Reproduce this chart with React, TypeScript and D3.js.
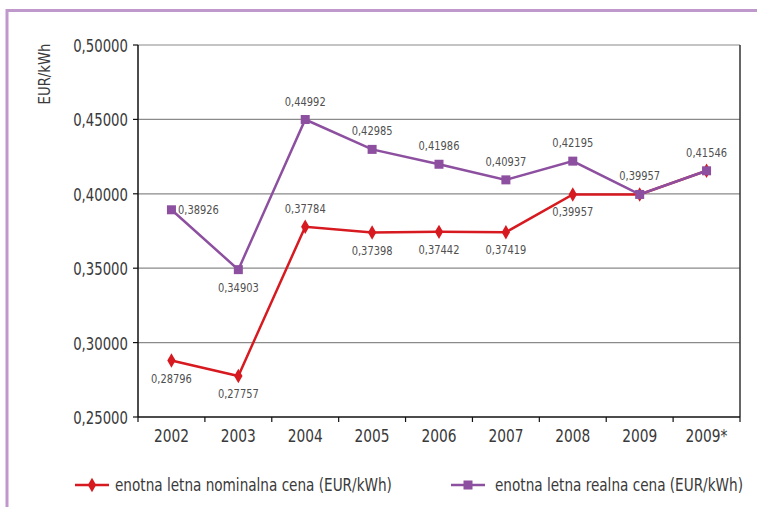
import React from 'react';
import * as d3 from 'd3';

const years = ['2002', '2003', '2004', '2005', '2006', '2007', '2008', '2009', '2009*'];
const nominalValues = [0.28796, 0.27757, 0.37784, 0.37398, 0.37442, 0.37419, 0.39957, 0.39957, 0.41546];
const realValues = [0.38926, 0.34903, 0.44992, 0.42985, 0.41986, 0.40937, 0.42195, 0.39957, 0.41546];
// where the value label sits next to each point
const nominalLabelPos = ['below', 'below', 'above', 'below', 'below', 'below', 'below', 'none', 'none'];
const realLabelPos = ['right', 'below', 'above', 'above', 'above', 'above', 'above', 'above', 'above'];
const yTicks = [0.25, 0.3, 0.35, 0.4, 0.45, 0.5];
const nominalName = 'enotna letna nominalna cena (EUR/kWh)';
const realName = 'enotna letna realna cena (EUR/kWh)';

const RED = '#d71920';
const PURPLE = '#8d4f9f';
const FONT = '"DejaVu Sans Condensed", "DejaVu Sans", sans-serif';
const TEXT = '#3a3a3a';

const fmt = (v: number) => v.toFixed(5).replace('.', ',');

// squeezed text, the original uses a condensed face
const Txt = ({ x, y, sx, size, anchor = 'start', fill = TEXT, children }: any) => (
  <text transform={`translate(${x},${y}) scale(${sx},1)`} textAnchor={anchor} fontSize={size} fill={fill}>
    {children}
  </text>
);

const App = () => {
  const width = 757, height = 507;
  const margin = { top: 45, right: 17, bottom: 90, left: 138 };

  const x = d3.scaleBand().domain(years).range([margin.left, width - margin.right]);
  const y = d3.scaleLinear().domain([0.25, 0.5]).range([height - margin.bottom, margin.top]);
  const cx = (d: string) => (x(d) as number) + x.bandwidth() / 2;

  const line = d3.line<number>()
    .x((_, i) => cx(years[i]))
    .y((d) => y(d));

  const labelXY = (pos: string, i: number, v: number) => {
    const px = cx(years[i]), py = y(v);
    if (pos === 'above') return [px, py - 14];
    if (pos === 'below') return [px, py + 22];
    if (pos === 'right') return [px + 27, py + 4];
    return null;
  };

  const diamond = d3.symbol().type(d3.symbolDiamond).size(60)();

  const x0 = margin.left, x1 = width - margin.right;
  const yBottom = y(0.25), yTop = y(0.5);

  return (
    <svg width={width} height={height} style={{ position: 'absolute', left: 0, top: 0, background: '#fff' }}
      fontFamily={FONT}>
      {/* outer frame */}
      <rect x={7} y={10.5} width={800} height={600} fill="none" stroke="#bf98cc" strokeWidth={3} />

      {/* grid */}
      {yTicks.filter((t) => t > 0.25).map((t) => (
        <line key={t} x1={x0} x2={x1} y1={y(t)} y2={y(t)} stroke="#8a8a8a" strokeWidth={1.2} />
      ))}
      <line x1={x1} x2={x1} y1={yTop} y2={yBottom} stroke="#333" strokeWidth={1.5} />

      {/* y axis */}
      <line x1={x0} x2={x0} y1={yTop} y2={yBottom} stroke="#111" strokeWidth={1.5} />
      {yTicks.map((t) => (
        <g key={t}>
          <line x1={x0 - 5} x2={x0} y1={y(t)} y2={y(t)} stroke="#111" strokeWidth={1.2} />
          <Txt x={x0 - 10} y={y(t) + 7} sx={0.82} size={18} anchor="end">{fmt(t)}</Txt>
        </g>
      ))}
      <text transform={`translate(50,${74}) rotate(-90) scale(0.92,1)`} textAnchor="middle" fontSize={16} fill={TEXT}>EUR/kWh</text>

      {/* x axis */}
      <line x1={x0} x2={x1} y1={yBottom} y2={yBottom} stroke="#111" strokeWidth={1.5} />
      {years.map((d, i) => (
        <g key={d}>
          <line x1={x(d) as number} x2={x(d) as number} y1={yBottom} y2={yBottom + 5} stroke="#111" strokeWidth={1.2} />
          {i === years.length - 1 && (
            <line x1={x1} x2={x1} y1={yBottom} y2={yBottom + 5} stroke="#111" strokeWidth={1.2} />
          )}
          <Txt x={cx(d)} y={yBottom + 25} sx={0.85} size={18} anchor="middle">{d}</Txt>
        </g>
      ))}

      {/* nominal series */}
      <path d={line(nominalValues) as string} fill="none" stroke={RED} strokeWidth={2.5} />
      {nominalValues.map((v, i) => (
        <path key={i} d={diamond as string} transform={`translate(${cx(years[i])},${y(v)})`} fill={RED} />
      ))}

      {/* real series */}
      <path d={line(realValues) as string} fill="none" stroke={PURPLE} strokeWidth={2.5} />
      {realValues.map((v, i) => (
        <rect key={i} x={cx(years[i]) - 4.5} y={y(v) - 4.5} width={9} height={9} fill={PURPLE} />
      ))}

      {/* value labels */}
      {realValues.map((v, i) => {
        const p = labelXY(realLabelPos[i], i, v);
        return p && (
          <Txt key={'r' + i} x={p[0]} y={p[1]} sx={0.88} size={12.5} anchor="middle" fill="#505050">{fmt(v)}</Txt>
        );
      })}
      {nominalValues.map((v, i) => {
        const p = labelXY(nominalLabelPos[i], i, v);
        return p && (
          <Txt key={'n' + i} x={p[0]} y={p[1]} sx={0.88} size={12.5} anchor="middle" fill="#505050">{fmt(v)}</Txt>
        );
      })}

      {/* legend */}
      <g transform="translate(75,485)">
        <line x1={0} x2={34} y1={0} y2={0} stroke={RED} strokeWidth={2.5} />
        <path d={diamond as string} transform="translate(17,0)" fill={RED} />
        <Txt x={40} y={6} sx={0.89} size={17}>{nominalName}</Txt>
      </g>
      <g transform="translate(451,485)">
        <line x1={0} x2={34} y1={0} y2={0} stroke={PURPLE} strokeWidth={2.5} />
        <rect x={12.5} y={-4.5} width={9} height={9} fill={PURPLE} />
        <Txt x={44} y={6} sx={0.89} size={17}>{realName}</Txt>
      </g>
    </svg>
  );
};

export default App;
